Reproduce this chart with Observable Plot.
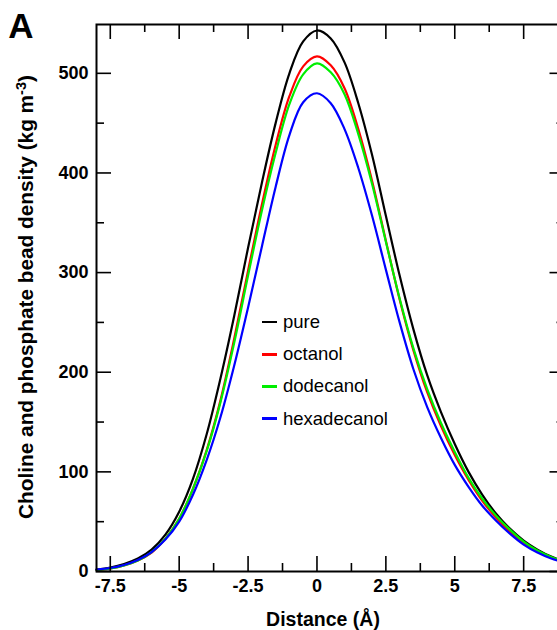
<!DOCTYPE html>
<html>
<head>
<meta charset="utf-8">
<script src="https://cdn.jsdelivr.net/npm/d3@7"></script>
<script src="https://cdn.jsdelivr.net/npm/@observablehq/plot@0.6"></script>
<style>
  html, body { margin: 0; padding: 0; background: #fff; overflow: hidden; }
  #wrap { position: relative; width: 557px; height: 630px; overflow: hidden; }
  #wrap svg { position: absolute; left: 0; top: 0; max-width: none !important; width: 600px !important; height: 630px !important; }
  .legend { position: absolute; left: 262px; top: 306px; font-family: "Liberation Sans", Arial, sans-serif; font-size: 18.5px; color: #000; }
  .legend .row { display: flex; align-items: center; height: 32.2px; }
  .legend .sw { width: 15px; height: 2.5px; margin-right: 6px; }
</style>
</head>
<body>
<div id="wrap"></div>
<script>
// Distance (Å)
const distance = [-8, -7.5, -7, -6.5, -6, -5.5, -5, -4.5, -4, -3.5, -3, -2.5, -2, -1.5, -1, -0.5, 0,
                  0.5, 1, 1.5, 2, 2.5, 3, 3.5, 4, 4.5, 5, 5.5, 6, 6.5, 7, 7.5, 8, 8.5, 9];
// Choline and phosphate bead density (kg m^-3)
const pure = [2, 4, 7.5, 13, 22, 37, 60, 93, 138, 194, 257, 325, 390, 450, 500, 532, 543,
              535, 511, 470, 418, 357, 297, 243, 197, 160, 128, 100, 77, 58, 43, 31, 22, 15, 10];
const octanol = [1.5, 3, 6, 11, 19, 33, 53, 83, 122, 172, 234, 302, 368, 428, 477, 507, 517,
                 508, 485, 444, 392, 332, 273, 222, 180, 146, 117, 92, 71, 54, 40, 29, 20, 14, 9.5];
const dodecanol = [1.5, 3, 6, 11, 19.5, 33, 53, 83, 121, 170, 230, 297, 362, 420, 469, 499, 510,
                   501, 479, 439, 389, 331, 274, 224, 183, 149, 120, 94, 73, 56, 42, 30, 21, 14.5, 10];
const hexadecanol = [2, 3.5, 6.5, 11.5, 19.5, 32, 50, 77, 112, 155, 207, 265, 326, 386, 438, 471, 480,
                     470, 444, 405, 357, 303, 250, 203, 165, 134, 107, 85, 66, 51, 38, 27, 19, 13, 9];

const seriesNames = ["pure", "octanol", "dodecanol", "hexadecanol"];
const seriesColors = ["#000000", "#ff0000", "#00ee00", "#0000ff"];
const seriesValues = [pure, octanol, dodecanol, hexadecanol];

const xMajor = [-7.5, -5, -2.5, 0, 2.5, 5, 7.5];
const xMinor = [-6.25, -3.75, -1.25, 1.25, 3.75, 6.25, 8.75];
const yMajor = [0, 100, 200, 300, 400, 500];
const yMinor = [50, 150, 250, 350, 450];

const table = seriesNames.flatMap((name, i) =>
  distance.map((d, j) => ({series: name, x: d, y: seriesValues[i][j]})));

const W = 600, H = 630;
const mL = 96, mR = 35.5, mT = 24, mB = 59;
const fW = W - mL - mR, fH = H - mT - mB;
const majLen = 15, minLen = 8;

const tickStyle = {stroke: "black", strokeWidth: 1.6};

const plot = Plot.plot({
  width: W, height: H,
  marginLeft: mL, marginRight: mR, marginTop: mT, marginBottom: mB,
  x: {domain: [-8, 9]},
  y: {domain: [0, 549]},
  style: {fontFamily: "'Liberation Sans', Arial, sans-serif", fontSize: "18px", fontWeight: "bold", background: "white", overflow: "visible", maxWidth: "none"},
  marks: [
    ...seriesNames.map((name, i) =>
      Plot.line(table.filter(d => d.series === name), {x: "x", y: "y", stroke: seriesColors[i], strokeWidth: 2.2, curve: "catmull-rom"})),
    // inward ticks: bottom / top
    Plot.tickX(xMajor, {x: d => d, insetTop: fH - majLen, ...tickStyle}),
    Plot.tickX(xMinor, {x: d => d, insetTop: fH - minLen, ...tickStyle}),
    Plot.tickX(xMajor, {x: d => d, insetBottom: fH - majLen, ...tickStyle}),
    Plot.tickX(xMinor, {x: d => d, insetBottom: fH - minLen, ...tickStyle}),
    // inward ticks: left / right
    Plot.tickY(yMajor, {y: d => d, insetRight: fW - majLen, ...tickStyle}),
    Plot.tickY(yMinor, {y: d => d, insetRight: fW - minLen, ...tickStyle}),
    Plot.tickY(yMajor, {y: d => d, insetLeft: fW - majLen, ...tickStyle}),
    Plot.tickY(yMinor, {y: d => d, insetLeft: fW - minLen, ...tickStyle}),
    Plot.frame({stroke: "black", strokeWidth: 2}),
    Plot.axisX({ticks: xMajor, tickSize: 0, tickPadding: 8, tickFormat: d => String(d), label: null, fontWeight: "bold"}),
    Plot.axisY({ticks: yMajor, tickSize: 0, tickPadding: 8, tickFormat: d => String(d), label: null, fontWeight: "bold"})
  ]
});

const wrap = document.getElementById("wrap");
wrap.appendChild(plot);

const svg = d3.select(plot);
// panel letter
svg.append("text")
  .attr("x", 21).attr("y", 38)
  .attr("font-size", 35).attr("font-weight", "bold")
  .attr("font-family", "'Liberation Sans', Arial, sans-serif")
  .text("A");
// x axis title
svg.append("text")
  .attr("x", 323).attr("y", 626)
  .attr("text-anchor", "middle")
  .attr("font-size", 19.5).attr("font-weight", "bold")
  .attr("font-family", "'Liberation Sans', Arial, sans-serif")
  .text("Distance (Å)");
// y axis title with superscript
const yt = svg.append("text")
  .attr("transform", "translate(33,297) rotate(-90)")
  .attr("text-anchor", "middle")
  .attr("font-size", 20.8).attr("font-weight", "bold")
  .attr("font-family", "'Liberation Sans', Arial, sans-serif");
yt.append("tspan").text("Choline and phosphate bead density (kg m");
yt.append("tspan").attr("dy", "-0.5em").attr("font-size", "70%").text("-3");
yt.append("tspan").attr("dy", "0.35em").text(")");

// legend
const leg = document.createElement("div");
leg.className = "legend";
seriesNames.forEach((name, i) => {
  const row = document.createElement("div");
  row.className = "row";
  const sw = document.createElement("span");
  sw.className = "sw";
  sw.style.background = seriesColors[i];
  const tx = document.createElement("span");
  tx.textContent = name;
  row.appendChild(sw);
  row.appendChild(tx);
  leg.appendChild(row);
});
wrap.appendChild(leg);
</script>
</body>
</html>
